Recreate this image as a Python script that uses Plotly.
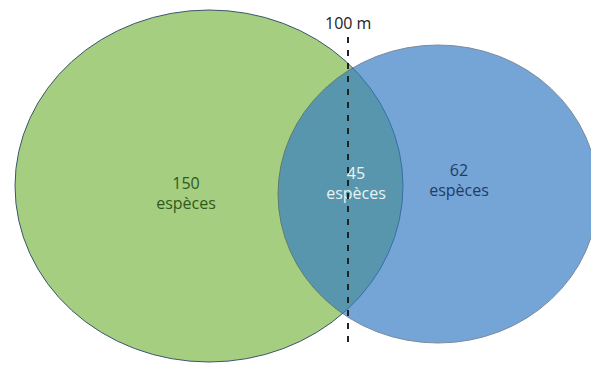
import plotly.graph_objects as go

# sets: pixel bounds on the 599x367 canvas
set_names = ['Avant 100 m', 'Après 100 m']
set_bounds = [(15, 403, 10, 362), (278, 598, 45, 343)]
set_fill = ['rgb(166,206,128)', 'rgb(52,124,196)']
set_opacity = [1.0, 0.68]

region_counts = [150, 45, 62]
region_label = 'espèces'
region_x = [186, 356, 459]
region_y = [195, 185, 182]
region_color = ['#2f5a1c', '#eaf2f2', '#1f3b66']

limit_label = '100 m'
limit_x = 348

FONT = 'Open Sans, Liberation Sans, sans-serif'
PAGE_MARGIN = 8  # body margin of the html page

fig = go.Figure()

for (x0, x1, y0, y1), fill, op in zip(set_bounds, set_fill, set_opacity):
    fig.add_shape(type='circle', xref='x', yref='y', x0=x0, x1=x1, y0=y0, y1=y1,
                  fillcolor=fill, opacity=op, line=dict(color='rgb(60,85,110)', width=1), layer='below')

# dashed limit line
fig.add_shape(type='line', xref='x', yref='y', x0=limit_x, x1=limit_x, y0=37, y1=348,
              line=dict(color='#222222', width=2, dash='6px,7px'))

fig.add_trace(go.Scatter(
    x=region_x, y=region_y, mode='text',
    text=[f'{c}<br>{region_label}' for c in region_counts],
    textfont=dict(family=FONT, size=16, color=region_color),
    hoverinfo='skip'))

fig.add_annotation(x=limit_x, y=23, text=limit_label, showarrow=False, xref='x', yref='y',
                   font=dict(family=FONT, size=16, color='#222222'))

fig.update_xaxes(range=[PAGE_MARGIN, 599], visible=False, fixedrange=True)
fig.update_yaxes(range=[367, PAGE_MARGIN], visible=False, fixedrange=True)
fig.update_layout(width=599 - PAGE_MARGIN, height=367 - PAGE_MARGIN, margin=dict(l=0, r=0, t=0, b=0),
                  plot_bgcolor='white', paper_bgcolor='white', showlegend=False)

fig.write_html('out.html')
